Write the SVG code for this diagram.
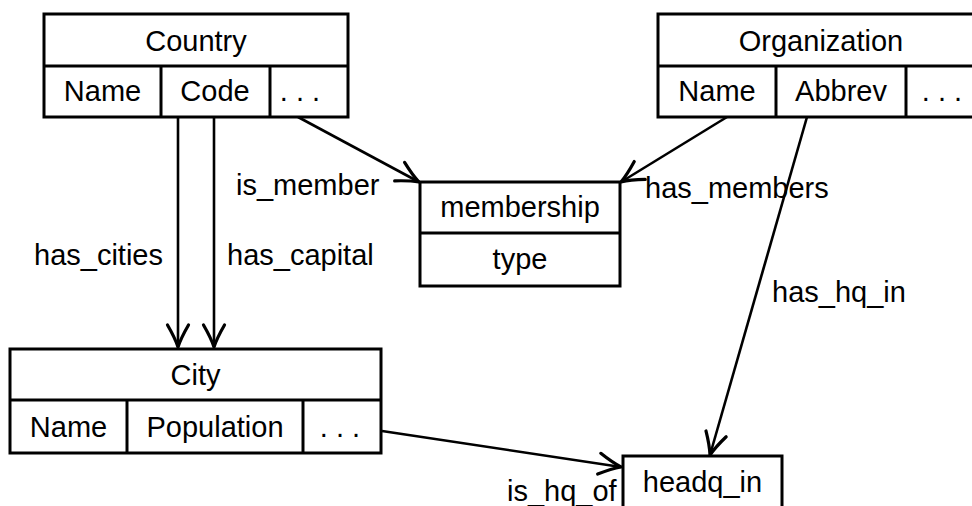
<svg xmlns="http://www.w3.org/2000/svg" width="972" height="506" viewBox="0 0 972 506">
  <style>
    .box { fill: #ffffff; stroke: #000000; stroke-width: 3; }
    .div { stroke: #000000; stroke-width: 3; fill: none; }
    .t { font-family: "Liberation Sans", Arial, sans-serif; font-size: 29px; fill: #000000; }
    .c { text-anchor: middle; }
    .edge { stroke: #000000; stroke-width: 2.6; fill: none; marker-end: url(#arr); }
  </style>
  <defs>
    <marker id="arr" viewBox="-26 -14 30 28" refX="0" refY="0" markerWidth="30" markerHeight="28" markerUnits="userSpaceOnUse" orient="auto" overflow="visible">
      <path d="M-22,-10.5 Q-9,-3 0,0 Q-9,3 -22,10.5" fill="none" stroke="#000000" stroke-width="3.2" stroke-linecap="round"/>
    </marker>
  </defs>
  <rect width="972" height="506" fill="#ffffff"/>

  <g id="connectors">
    <line class="edge" x1="178" y1="117" x2="178" y2="347"/>
    <line class="edge" x1="214" y1="117" x2="214" y2="347"/>
    <line class="edge" x1="298" y1="117" x2="419" y2="182"/>
    <line class="edge" x1="727" y1="117" x2="621" y2="182"/>
    <line class="edge" x1="807" y1="117" x2="710" y2="455"/>
    <line class="edge" x1="382" y1="431" x2="621" y2="467"/>
    <text class="t" x="236" y="195">is_member</text>
    <text class="t" x="645" y="198">has_members</text>
    <text class="t" x="34" y="265">has_cities</text>
    <text class="t" x="227" y="265">has_capital</text>
    <text class="t" x="772" y="302">has_hq_in</text>
    <text class="t" x="507" y="501">is_hq_of</text>
  </g>

  <g id="country">
    <rect class="box" x="44" y="14" width="304" height="103"/>
    <line class="div" x1="44" y1="66" x2="348" y2="66"/>
    <line class="div" x1="161" y1="66" x2="161" y2="117"/>
    <line class="div" x1="270" y1="66" x2="270" y2="117"/>
    <text class="t c" x="196" y="51">Country</text>
    <text class="t c" x="102.5" y="101">Name</text>
    <text class="t c" x="215" y="101">Code</text>
    <text class="t c" x="300" y="101">. . .</text>
  </g>

  <g id="organization">
    <rect class="box" x="658" y="14" width="326" height="103"/>
    <line class="div" x1="658" y1="66" x2="984" y2="66"/>
    <line class="div" x1="776" y1="66" x2="776" y2="117"/>
    <line class="div" x1="906" y1="66" x2="906" y2="117"/>
    <text class="t c" x="821" y="51">Organization</text>
    <text class="t c" x="717" y="101">Name</text>
    <text class="t c" x="841" y="101">Abbrev</text>
    <text class="t c" x="942" y="101">. . .</text>
  </g>

  <g id="membership">
    <rect class="box" x="420" y="182" width="200" height="104"/>
    <line class="div" x1="420" y1="233" x2="620" y2="233"/>
    <text class="t c" x="520" y="217">membership</text>
    <text class="t c" x="520" y="269">type</text>
  </g>

  <g id="city">
    <rect class="box" x="10" y="349" width="371" height="104"/>
    <line class="div" x1="10" y1="400" x2="381" y2="400"/>
    <line class="div" x1="127" y1="400" x2="127" y2="453"/>
    <line class="div" x1="303" y1="400" x2="303" y2="453"/>
    <text class="t c" x="195.5" y="385">City</text>
    <text class="t c" x="68.5" y="437">Name</text>
    <text class="t c" x="215" y="437">Population</text>
    <text class="t c" x="340" y="437">. . .</text>
  </g>

  <g id="headq_in">
    <rect class="box" x="623" y="456" width="159" height="70"/>
    <text class="t c" x="702.5" y="492">headq_in</text>
  </g>
</svg>
